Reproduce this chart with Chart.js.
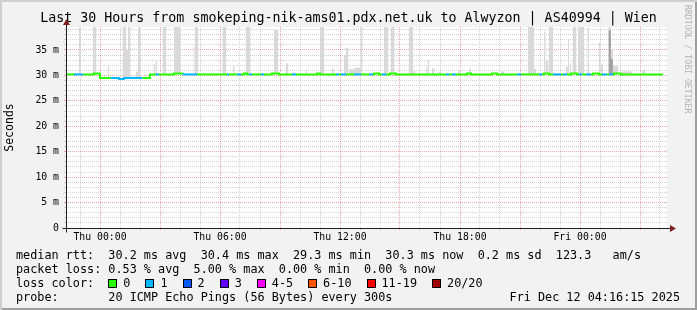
<!DOCTYPE html>
<html>
<head>
<meta charset="utf-8">
<title>smokeping</title>
<script src="https://cdn.jsdelivr.net/npm/chart.js@4.4.1/dist/chart.umd.min.js"></script>
<style>
  html, body { margin: 0; padding: 0; }
  body { width: 697px; height: 310px; overflow: hidden; }
  #frame {
    position: relative;
    width: 697px;
    height: 310px;
    background: #f2f2f2;
    box-shadow: inset 2px 2px 0 #cfcfcf, inset -2px -2px 0 #9e9e9e;
    font-family: "DejaVu Sans Mono", monospace;
    color: #000;
  }
  #chart { position: absolute; left: 0; top: 0; }
  #title {
    position: absolute; left: 0; top: 10px; width: 697px;
    text-align: center; font-size: 13.3px; line-height: 16px; white-space: pre;
  }
  #mark {
    position: absolute; left: 683px; top: 5px;
    writing-mode: vertical-rl; font-size: 8.2px; line-height: 9px;
    color: #b4b4b4; white-space: pre;
  }
  #info {
    position: absolute; left: 16px; top: 248px; width: 664px;
    font-size: 11.8px; line-height: 14px;
  }
  .row { height: 14px; display: flex; align-items: center; white-space: pre; }
  .box {
    display: inline-block; width: 7px; height: 7px;
    border: 1px solid #000; margin-right: 6px;
  }
  .lab { margin-right: 15px; }
  .spread { justify-content: space-between; }
</style>
</head>
<body>
<div id="frame">
  <canvas id="chart" width="697" height="310"></canvas>
  <div id="title">Last 30 Hours from smokeping-nik-ams01.pdx.net.uk to Alwyzon | AS40994 | Wien</div>
  <div id="mark">RRDTOOL / TOBI OETIKER</div>
  <div id="info">
    <div class="row">median rtt:  30.2 ms avg  30.4 ms max  29.3 ms min  30.3 ms now  0.2 ms sd  123.3   am/s</div>
    <div class="row">packet loss: 0.53 % avg  5.00 % max  0.00 % min  0.00 % now</div>
    <div class="row" id="lossRow"><span>loss color:  </span></div>
    <div class="row spread"><span>probe:       20 ICMP Echo Pings (56 Bytes) every 300s</span><span>Fri Dec 12 04:16:15 2025</span></div>
  </div>
</div>
<script>
// hours relative to Thu 00:00, values in ms
const medianHours = [-1.67, -1.3, -0.84, -0.3, 0, 0.54, 0.95, 1.2, 2.12, 2.5, 2.79, 2.95, 3.7, 4.12, 4.87,
  6.35, 6.45, 6.85, 7.05, 7.2, 7.35, 7.45, 7.6, 8.05, 8.2, 8.6, 8.95, 9.6, 9.8, 10.85, 11.0, 11.8, 11.95,
  12.05, 12.3, 12.7, 13.05, 13.45, 13.65, 13.7, 13.95, 14.1, 14.3, 14.5, 14.79, 17.3, 17.45, 17.6, 17.8,
  18.35, 18.55, 19.6, 19.85, 20.85, 21.05, 21.95, 22.1, 22.2, 22.45, 22.65, 23.05, 23.15, 23.35, 23.55,
  23.85, 23.95, 24.1, 24.3, 24.55, 24.65, 24.95, 25.1, 25.35, 25.45, 25.65, 25.7, 26.05, 28.15];
const medianMs = [30.2, 30.2, 30.2, 30.4, 29.5, 29.5, 29.3, 29.5, 29.5, 30.2, 30.2, 30.2, 30.4, 30.2, 30.2,
  30.2, 30.2, 30.2, 30.2, 30.4, 30.2, 30.2, 30.2, 30.2, 30.2, 30.4, 30.2, 30.2, 30.2, 30.4, 30.2, 30.2, 30.2,
  30.2, 30.2, 30.2, 30.2, 30.2, 30.2, 30.4, 30.2, 30.2, 30.2, 30.4, 30.2, 30.2, 30.2, 30.2, 30.2,
  30.4, 30.2, 30.4, 30.2, 30.2, 30.2, 30.2, 30.2, 30.4, 30.2, 30.2, 30.2, 30.2, 30.2, 30.4,
  30.2, 30.2, 30.2, 30.2, 30.2, 30.4, 30.2, 30.2, 30.2, 30.2, 30.2, 30.4, 30.2, 30.2];
// pings lost out of 20, for the step starting at that point
const medianLoss = [0, 1, 0, 0, 0, 1, 1, 1, 0, 0, 1, 0, 0, 1, 0,
  1, 0, 1, 0, 0, 0, 1, 0, 1, 0, 0, 0, 1, 0, 0, 0, 1, 0,
  1, 0, 1, 0, 1, 0, 0, 0, 1, 0, 0, 0, 1, 0, 1, 0,
  0, 0, 0, 0, 1, 0, 1, 0, 0, 0, 1, 0, 1, 0, 0,
  0, 1, 0, 1, 0, 0, 0, 1, 0, 1, 0, 0, 0, 0];

// smoke: spread of the 20 pings above the median
const smokeFrom = [-1.05, -0.35, 0.38, 1.13, 1.3, 1.4, 1.57, 1.78, 1.9, 2.67, 2.78, 3.13, 3.7, 4.67, 4.73,
  6.12, 6.65, 7.28, 8.7, 9.28, 9.65, 10.28, 11.0, 11.6, 12.2, 12.3, 12.45, 12.7, 12.9, 13.03,
  14.2, 14.53, 15.45, 15.67, 16.28, 16.37, 16.6, 16.95, 17.9, 18.45, 20.05,
  21.4, 21.7, 22.2, 22.28, 22.45, 23.28, 23.4, 23.48, 23.63, 23.9, 24.37, 24.95, 25.03,
  25.42, 25.55, 25.65, 26.1, 27.1];
const smokeTo = [-0.95, -0.18, 0.45, 1.3, 1.4, 1.53, 1.65, 1.9, 2.03, 2.78, 2.87, 3.3, 4.03, 4.73, 4.9,
  6.32, 6.73, 7.53, 8.9, 9.4, 9.72, 10.37, 11.2, 11.7, 12.3, 12.42, 12.7, 12.9, 13.03, 13.13,
  14.4, 14.73, 15.67, 15.78, 16.37, 16.47, 16.73, 17.07, 18.03, 18.57, 20.2,
  21.7, 21.8, 22.28, 22.42, 22.67, 23.4, 23.45, 23.55, 23.82, 24.2, 24.45, 25.03, 25.15,
  25.55, 25.65, 25.9, 26.6, 27.28];
const smokeTopMs = [40, 40, 31.9, 40, 35, 40, 30.1, 30.7, 40, 32.2, 32.8, 40, 40, 35.8, 40,
  40, 31.9, 40, 38.9, 32.4, 30.8, 31.1, 40, 31.3, 34, 35.4, 31.2, 31.5, 31.5, 40,
  40, 40, 40, 30.9, 31.6, 33, 31.4, 30.7, 30.8, 31.3, 30.8,
  40, 31.3, 38.7, 33, 40, 31.7, 37, 32.4, 40, 40, 40, 36.5, 32.2,
  40, 35, 31.9, 30.8, 31];
// darker smoke, where many pings were slow
const denseFrom = [25.42, 25.55];
const denseTo = [25.55, 25.65];
const denseTopMs = [38.9, 33.2];

const xTickHours = [0, 6, 12, 18, 24];
const xTickLabels = ["Thu 00:00", "Thu 06:00", "Thu 12:00", "Thu 18:00", "Fri 00:00"];
const yTickValues = [0, 5, 10, 15, 20, 25, 30, 35];
const yTickLabels = ["0", "5 m", "10 m", "15 m", "20 m", "25 m", "30 m", "35 m"];

const lossLabels = ["0", "1", "2", "3", "4-5", "6-10", "11-19", "20/20"];
const lossLimits = [0, 1, 2, 3, 5, 10, 19, 20];
const lossColors = ["#26ff00", "#00b8ff", "#0059ff", "#5e00ff", "#ff00ff", "#ff5500", "#ff0000", "#a10000"];

const FONT = "'DejaVu Sans Mono', monospace";
const MINOR = "rgba(143,143,143,0.38)";
const MAJOR = "rgba(222,79,79,0.5)";

const lossColor = (n) => {
  for (let i = 0; i < lossLimits.length; i++) {
    if (n <= lossLimits[i]) return lossColors[i];
  }
  return lossColors[lossColors.length - 1];
};

const medianAt = (h) => {
  let v = medianMs[0];
  medianHours.forEach((t, i) => {
    if (t <= h) v = medianMs[i];
  });
  return v;
};

// build stepped top/bottom outlines for a smoke layer, broken between spikes
const smokeLayer = (from, to, top) => {
  const upper = [];
  const lower = [];
  from.forEach((f, i) => {
    const base = medianAt(f);
    upper.push({ x: f, y: top[i] }, { x: to[i], y: top[i] }, { x: to[i], y: null });
    lower.push({ x: f, y: base }, { x: to[i], y: base }, { x: to[i], y: null });
  });
  return { upper, lower };
};

const smoke = smokeLayer(smokeFrom, smokeTo, smokeTopMs);
const dense = smokeLayer(denseFrom, denseTo, denseTopMs);

// legend boxes for loss colours
const lossRow = document.getElementById("lossRow");
lossLabels.forEach((label, i) => {
  const box = document.createElement("span");
  box.className = "box";
  box.style.backgroundColor = lossColors[i];
  const text = document.createElement("span");
  text.className = "lab";
  text.textContent = label;
  lossRow.appendChild(box);
  lossRow.appendChild(text);
});

const hidden = {
  borderWidth: 0,
  borderColor: "rgba(0,0,0,0)",
  pointRadius: 0,
  fill: false,
  stepped: true,
  order: 3,
};

const plotBack = {
  id: "plotBack",
  beforeDraw(chart) {
    const { ctx, chartArea: a } = chart;
    ctx.save();
    ctx.fillStyle = "#ffffff";
    ctx.fillRect(a.left, a.top, a.right - a.left, a.bottom - a.top);
    ctx.restore();
  },
  afterDraw(chart) {
    const { ctx, chartArea: a } = chart;
    const x0 = Math.round(a.left) + 0.5;
    const y0 = Math.round(a.bottom) + 0.5;
    ctx.save();
    ctx.strokeStyle = "#1f1f1f";
    ctx.lineWidth = 1;
    ctx.beginPath();
    ctx.moveTo(x0 - 4, y0);
    ctx.lineTo(a.right + 4, y0);
    ctx.moveTo(x0, y0 + 4);
    ctx.lineTo(x0, a.top - 4);
    ctx.stroke();
    // arrow heads
    ctx.fillStyle = "#801f1f";
    ctx.beginPath();
    ctx.moveTo(a.right + 9, y0);
    ctx.lineTo(a.right + 3, y0 - 3.5);
    ctx.lineTo(a.right + 3, y0 + 3.5);
    ctx.closePath();
    ctx.moveTo(x0, a.top - 8);
    ctx.lineTo(x0 - 3.5, a.top - 2);
    ctx.lineTo(x0 + 3.5, a.top - 2);
    ctx.closePath();
    ctx.fill();
    ctx.restore();
  },
};

new Chart(document.getElementById("chart"), {
  type: "line",
  data: {
    datasets: [
      {
        data: medianHours.map((h, i) => ({ x: h, y: medianMs[i] })),
        borderWidth: 2,
        pointRadius: 0,
        stepped: true,
        fill: false,
        borderColor: lossColors[0],
        segment: {
          borderColor: (c) => lossColor(medianLoss[c.p0DataIndex]),
        },
        order: 0,
      },
      Object.assign({ data: smoke.lower }, hidden),
      {
        data: smoke.upper,
        borderWidth: 0,
        borderColor: "rgba(0,0,0,0)",
        pointRadius: 0,
        stepped: true,
        fill: 1,
        backgroundColor: "#d9d9d9",
        order: 2,
      },
      Object.assign({ data: dense.lower }, hidden),
      {
        data: dense.upper,
        borderWidth: 0,
        borderColor: "rgba(0,0,0,0)",
        pointRadius: 0,
        stepped: true,
        fill: 3,
        backgroundColor: "#a3a3a3",
        order: 1,
      },
    ],
  },
  options: {
    responsive: false,
    animation: false,
    devicePixelRatio: 1,
    events: [],
    spanGaps: false,
    layout: { padding: { left: 0, top: 27, right: 30, bottom: 68 } },
    plugins: {
      legend: { display: false },
      tooltip: { enabled: false },
    },
    scales: {
      x: {
        type: "linear",
        min: -1.7,
        max: 28.35,
        z: 1,
        afterFit: (s) => { s.height = 14; },
        grid: {
          color: (c) => (c.tick && c.tick.value % 3 === 0 ? MAJOR : MINOR),
          tickColor: (c) => (c.tick && c.tick.value % 3 === 0 ? MAJOR : MINOR),
          drawTicks: true,
          tickLength: 2,
          lineWidth: 1,
        },
        border: { display: false, dash: [1, 1] },
        ticks: {
          stepSize: 1,
          autoSkip: false,
          maxRotation: 0,
          includeBounds: false,
          padding: 1.5,
          color: "#000",
          font: { family: FONT, size: 9.8 },
          callback: (v) => {
            const i = xTickHours.indexOf(v);
            return i >= 0 ? xTickLabels[i] : "";
          },
        },
      },
      y: {
        min: 0,
        max: 39.52,
        z: 1,
        afterFit: (s) => { s.width = 66; },
        grid: {
          color: (c) => (c.tick && c.tick.value % 5 === 0 ? MAJOR : MINOR),
          tickColor: (c) => (c.tick && c.tick.value % 5 === 0 ? MAJOR : MINOR),
          drawTicks: true,
          tickLength: 2,
          lineWidth: 1,
        },
        border: { display: false, dash: [1, 1] },
        ticks: {
          stepSize: 1,
          autoSkip: false,
          includeBounds: false,
          padding: 5,
          color: "#000",
          font: { family: FONT, size: 9.8 },
          callback: (v) => {
            const i = yTickValues.indexOf(v);
            return i >= 0 ? yTickLabels[i] : "";
          },
        },
        title: {
          display: true,
          text: "Seconds",
          color: "#000",
          padding: { top: 3, bottom: 0 },
          font: { family: FONT, size: 11.5 },
        },
      },
    },
  },
  plugins: [plotBack],
});
</script>
</body>
</html>
